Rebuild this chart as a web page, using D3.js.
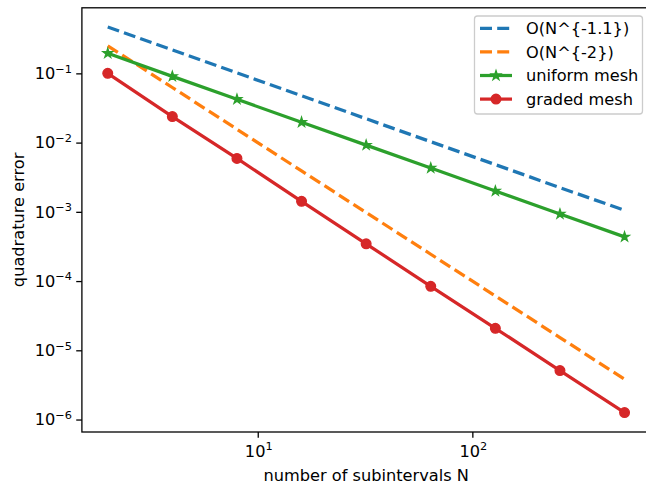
<!DOCTYPE html>
<html>
<head>
<meta charset="utf-8">
<script src="https://cdn.jsdelivr.net/npm/d3@7/dist/d3.min.js"></script>
<style>
  body { margin: 0; background: #fff; }
  svg { font-family: "DejaVu Sans", sans-serif; }
</style>
</head>
<body>
<svg id="chart"></svg>
<script>
// data
const subintervals = [2, 4, 8, 16, 32, 64, 128, 256, 512];
const refSlow = [0.4665, 0.2176, 0.1015, 0.0474, 0.0221, 0.0103, 0.00481, 0.00224, 0.00105];
const refFast = [0.25, 0.0625, 0.0156, 0.0039, 9.77e-4, 2.44e-4, 6.1e-5, 1.53e-5, 3.81e-6];
const uniformErr = [0.195, 0.0905, 0.0422, 0.0197, 0.0092, 0.0043, 0.0020, 9.3e-4, 4.35e-4];
const gradedErr = [0.1, 0.0238, 0.0059, 0.00142, 3.45e-4, 8.4e-5, 2.08e-5, 5.1e-6, 1.26e-6];
const xMajor = [10, 100];
const yMajor = [1e-1, 1e-2, 1e-3, 1e-4, 1e-5, 1e-6];

const size = {width: 646, height: 484};
const plot = {left: 81.9, right: 650.4, top: 7.8, bottom: 432};
const fs = 16.2;      // 10pt at the figure's scale
const lw = 3.24;      // 2pt lines
const spine = 1.3;

const svg = d3.select("#chart")
    .attr("width", size.width)
    .attr("height", size.height);

const x = d3.scaleLog()
    .domain([Math.pow(10, 0.1806), Math.pow(10, 2.8297)])
    .range([plot.left, plot.right]);

const y = d3.scaleLog()
    .domain([Math.pow(10, -6.18), Math.pow(10, -0.053)])
    .range([plot.bottom, plot.top]);

// minor tick positions (2..9 x 10^k inside domain)
function minors(scale) {
    const [a, b] = scale.domain();
    const out = [];
    for (let e = Math.floor(Math.log10(a)); e <= Math.ceil(Math.log10(b)); e++) {
        for (let m = 2; m <= 9; m++) {
            const v = m * Math.pow(10, e);
            if (v >= a && v <= b) out.push(v);
        }
    }
    return out;
}

const series = [
    {name: "O(N^{-1.1})", values: refSlow, color: "#1f77b4", dash: "12,5.2", marker: null},
    {name: "O(N^{-2})", values: refFast, color: "#ff7f0e", dash: "12,5.2", marker: null},
    {name: "uniform mesh", values: uniformErr, color: "#2ca02c", dash: null, marker: "star"},
    {name: "graded mesh", values: gradedErr, color: "#d62728", dash: null, marker: "circle"}
];

function markerPath(type) {
    return d3.symbol()
        .type(type === "star" ? d3.symbolStar : d3.symbolCircle)
        .size(type === "star" ? 28 : 74)();
}

const line = d3.line()
    .x((d, i) => x(subintervals[i]))
    .y(d => y(d));

const marks = svg.append("g");

series.forEach(function(s) {
    marks.append("path")
        .datum(s.values)
        .attr("d", line)
        .attr("fill", "none")
        .attr("stroke", s.color)
        .attr("stroke-width", lw)
        .attr("stroke-dasharray", s.dash);
    if (s.marker) {
        marks.selectAll(null)
            .data(s.values)
            .enter().append("path")
            .attr("d", markerPath(s.marker))
            .attr("transform", (d, i) => "translate(" + x(subintervals[i]) + "," + y(d) + ")")
            .attr("fill", s.color)
            .attr("stroke", s.color)
            .attr("stroke-width", spine);
    }
});

// axes
function superLabel(sel, exp) {
    sel.append("tspan").text("10");
    sel.append("tspan")
        .attr("dy", -6.5)
        .attr("font-size", fs * 0.7)
        .text(exp);
}

const bottom = svg.append("g").attr("transform", "translate(0," + plot.bottom + ")");
bottom.call(d3.axisBottom(x).tickValues(minors(x)).tickSize(3.24).tickFormat(""));
bottom.call(d3.axisBottom(x).tickValues(xMajor).tickSize(5.67).tickFormat(""));
bottom.selectAll(".domain").remove();
bottom.selectAll("line").attr("stroke", "#000").attr("stroke-width", spine);

xMajor.forEach(function(v) {
    const t = svg.append("text")
        .attr("x", x(v) + 1)
        .attr("y", 456.5)
        .attr("text-anchor", "middle")
        .attr("font-size", fs)
        .attr("fill", "#000");
    superLabel(t, String(Math.round(Math.log10(v))));
});

const left = svg.append("g").attr("transform", "translate(" + plot.left + ",0)");
left.call(d3.axisLeft(y).tickValues(minors(y)).tickSize(3.24).tickFormat(""));
left.call(d3.axisLeft(y).tickValues(yMajor).tickSize(5.67).tickFormat(""));
left.selectAll(".domain").remove();
left.selectAll("line").attr("stroke", "#000").attr("stroke-width", spine);

yMajor.forEach(function(v) {
    const t = svg.append("text")
        .attr("x", 72)
        .attr("y", y(v) + 5.8)
        .attr("text-anchor", "end")
        .attr("font-size", fs)
        .attr("fill", "#000");
    superLabel(t, "\u2212" + Math.abs(Math.round(Math.log10(v))));
});

// frame
svg.append("rect")
    .attr("x", plot.left)
    .attr("y", plot.top)
    .attr("width", plot.right - plot.left)
    .attr("height", plot.bottom - plot.top)
    .attr("fill", "none")
    .attr("stroke", "#000")
    .attr("stroke-width", spine);

// labels
svg.append("text")
    .attr("x", (plot.left + plot.right) / 2)
    .attr("y", 480.5)
    .attr("text-anchor", "middle")
    .attr("font-size", fs)
    .text("number of subintervals N");

svg.append("text")
    .attr("transform", "translate(24," + (plot.top + plot.bottom) / 2 + ") rotate(-90)")
    .attr("text-anchor", "middle")
    .attr("font-size", fs)
    .text("quadrature error");

// Legend
const legend = svg.append("g");
legend.append("rect")
    .attr("x", 474.5)
    .attr("y", 16)
    .attr("width", 168)
    .attr("height", 98)
    .attr("rx", 3)
    .attr("fill", "#fff")
    .attr("fill-opacity", 0.8)
    .attr("stroke", "#cccccc")
    .attr("stroke-width", spine);

const rows = legend.selectAll("g.row")
    .data(series)
    .enter().append("g")
    .attr("class", "row")
    .attr("transform", (d, i) => "translate(0," + (28.3 + i * 23.6) + ")");

rows.append("line")
    .attr("x1", 480)
    .attr("x2", 512)
    .attr("stroke", d => d.color)
    .attr("stroke-width", lw)
    .attr("stroke-dasharray", d => d.dash);

rows.filter(d => d.marker).append("path")
    .attr("d", d => markerPath(d.marker))
    .attr("transform", "translate(496,0)")
    .attr("fill", d => d.color)
    .attr("stroke", d => d.color)
    .attr("stroke-width", spine);

rows.append("text")
    .attr("x", 526)
    .attr("y", 5.8)
    .attr("font-size", fs)
    .text(d => d.name);
</script>
</body>
</html>
